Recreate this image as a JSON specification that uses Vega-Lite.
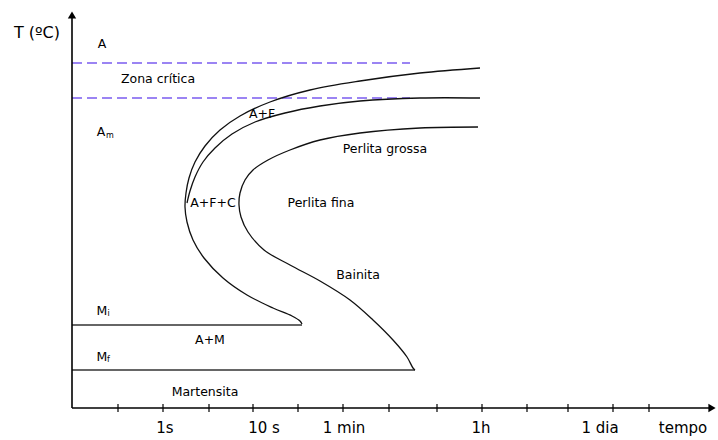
{
  "$schema": "https://vega.github.io/schema/vega-lite/v6.json",
  "width": 646,
  "height": 408,
  "autosize": {"type": "none"},
  "padding": {"left": 72, "top": 0, "right": 0, "bottom": 32},
  "background": "white",
  "view": {"stroke": null},
  "datasets": {
    "curves": [
      {"series": "c1", "ord": 1, "x": 408, "y": 340},
      {"series": "c1", "ord": 2, "x": 348, "y": 335},
      {"series": "c1", "ord": 3, "x": 288, "y": 327},
      {"series": "c1", "ord": 4, "x": 238, "y": 318},
      {"series": "c1", "ord": 5, "x": 198, "y": 306},
      {"series": "c1", "ord": 6, "x": 168, "y": 292},
      {"series": "c1", "ord": 7, "x": 148, "y": 278},
      {"series": "c1", "ord": 8, "x": 133, "y": 262},
      {"series": "c1", "ord": 9, "x": 123, "y": 246},
      {"series": "c1", "ord": 10, "x": 117, "y": 230},
      {"series": "c1", "ord": 11, "x": 114, "y": 215},
      {"series": "c1", "ord": 12, "x": 113, "y": 201},
      {"series": "c1", "ord": 13, "x": 115, "y": 186},
      {"series": "c1", "ord": 14, "x": 121, "y": 168},
      {"series": "c1", "ord": 15, "x": 132, "y": 150},
      {"series": "c1", "ord": 16, "x": 151, "y": 130},
      {"series": "c1", "ord": 17, "x": 175, "y": 113},
      {"series": "c1", "ord": 18, "x": 201, "y": 100},
      {"series": "c1", "ord": 19, "x": 220, "y": 92},
      {"series": "c1", "ord": 20, "x": 228, "y": 87},
      {"series": "c1", "ord": 21, "x": 230, "y": 84},
      {"series": "c2", "ord": 1, "x": 408, "y": 310},
      {"series": "c2", "ord": 2, "x": 348, "y": 310},
      {"series": "c2", "ord": 3, "x": 288, "y": 307},
      {"series": "c2", "ord": 4, "x": 248, "y": 302},
      {"series": "c2", "ord": 5, "x": 213, "y": 295},
      {"series": "c2", "ord": 6, "x": 183, "y": 286},
      {"series": "c2", "ord": 7, "x": 160, "y": 274},
      {"series": "c2", "ord": 8, "x": 143, "y": 260},
      {"series": "c2", "ord": 9, "x": 131, "y": 246},
      {"series": "c2", "ord": 10, "x": 123, "y": 231},
      {"series": "c2", "ord": 11, "x": 118, "y": 217},
      {"series": "c2", "ord": 12, "x": 115, "y": 205},
      {"series": "c3", "ord": 1, "x": 406, "y": 281},
      {"series": "c3", "ord": 2, "x": 348, "y": 280},
      {"series": "c3", "ord": 3, "x": 288, "y": 275},
      {"series": "c3", "ord": 4, "x": 248, "y": 268},
      {"series": "c3", "ord": 5, "x": 218, "y": 258},
      {"series": "c3", "ord": 6, "x": 196, "y": 248},
      {"series": "c3", "ord": 7, "x": 181, "y": 238},
      {"series": "c3", "ord": 8, "x": 173, "y": 228},
      {"series": "c3", "ord": 9, "x": 168, "y": 215},
      {"series": "c3", "ord": 10, "x": 167, "y": 203},
      {"series": "c3", "ord": 11, "x": 169, "y": 191},
      {"series": "c3", "ord": 12, "x": 176, "y": 176},
      {"series": "c3", "ord": 13, "x": 192, "y": 158},
      {"series": "c3", "ord": 14, "x": 218, "y": 143},
      {"series": "c3", "ord": 15, "x": 248, "y": 127},
      {"series": "c3", "ord": 16, "x": 278, "y": 108},
      {"series": "c3", "ord": 17, "x": 301, "y": 88},
      {"series": "c3", "ord": 18, "x": 321, "y": 68},
      {"series": "c3", "ord": 19, "x": 335, "y": 51},
      {"series": "c3", "ord": 20, "x": 341, "y": 40},
      {"series": "c3", "ord": 21, "x": 343, "y": 38}
    ],
    "hlines": [
      {"kind": "solid", "x": 0, "x2": 230, "y": 83},
      {"kind": "solid", "x": 0, "x2": 343, "y": 38},
      {"kind": "dash", "x": 0, "x2": 338, "y": 345},
      {"kind": "dash", "x": 0, "x2": 338, "y": 310}
    ],
    "ticks": [
      {"x": 46}, {"x": 91}, {"x": 137}, {"x": 181}, {"x": 226}, {"x": 271},
      {"x": 317}, {"x": 365}, {"x": 410}, {"x": 455}, {"x": 496}, {"x": 541}, {"x": 577}
    ],
    "arrows": [
      {"shape": "triangle-up", "x": 0, "y": 393},
      {"shape": "triangle-right", "x": 640, "y": 0}
    ],
    "labels": [
      {"kind": "title", "text": "T (ºC)", "x": -35, "y": 375},
      {"kind": "region", "text": "A", "x": 30, "y": 364},
      {"kind": "region", "text": "Zona crítica", "x": 86, "y": 329},
      {"kind": "region", "text": "A", "x": 29, "y": 276},
      {"kind": "sub", "text": "m", "x": 38, "y": 272},
      {"kind": "region", "text": "A+F", "x": 190, "y": 294},
      {"kind": "region", "text": "Perlita grossa", "x": 313, "y": 259},
      {"kind": "region", "text": "A+F+C", "x": 141, "y": 205},
      {"kind": "region", "text": "Perlita fina", "x": 249, "y": 205},
      {"kind": "region", "text": "Bainita", "x": 286, "y": 133},
      {"kind": "region", "text": "M", "x": 30, "y": 97},
      {"kind": "sub", "text": "i", "x": 36.5, "y": 94},
      {"kind": "region", "text": "A+M", "x": 138, "y": 68},
      {"kind": "region", "text": "M", "x": 30, "y": 51},
      {"kind": "sub", "text": "f", "x": 36.5, "y": 48},
      {"kind": "region", "text": "Martensita", "x": 133, "y": 16},
      {"kind": "tick", "text": "1s", "x": 93, "y": -20},
      {"kind": "tick", "text": "10 s", "x": 192, "y": -20},
      {"kind": "tick", "text": "1 min", "x": 272, "y": -20},
      {"kind": "tick", "text": "1h", "x": 409, "y": -20},
      {"kind": "tick", "text": "1 dia", "x": 528, "y": -20},
      {"kind": "tick", "text": "tempo", "x": 611, "y": -20}
    ]
  },
  "encoding": {
    "x": {"type": "quantitative", "scale": {"domain": [0, 646], "nice": false, "zero": false}, "axis": null},
    "y": {"type": "quantitative", "scale": {"domain": [0, 408], "nice": false, "zero": false}, "axis": null}
  },
  "layer": [
    {
      "data": {"name": "hlines"},
      "transform": [{"filter": "datum.kind === 'dash'"}],
      "mark": {"type": "rule", "color": "#7b5cf0", "strokeWidth": 1.5, "strokeDash": [10, 5]},
      "encoding": {"x": {"field": "x"}, "x2": {"field": "x2"}, "y": {"field": "y"}}
    },
    {
      "data": {"name": "hlines"},
      "transform": [{"filter": "datum.kind === 'solid'"}],
      "mark": {"type": "rule", "color": "#333333", "strokeWidth": 1.5},
      "encoding": {"x": {"field": "x"}, "x2": {"field": "x2"}, "y": {"field": "y"}}
    },
    {
      "data": {"name": "curves"},
      "mark": {"type": "line", "color": "#111111", "strokeWidth": 1.3, "interpolate": "catmull-rom"},
      "encoding": {
        "x": {"field": "x"},
        "y": {"field": "y"},
        "detail": {"field": "series"},
        "order": {"field": "ord", "type": "quantitative"}
      }
    },
    {
      "data": {"values": [{"x": 0, "x2": 640, "y": 0}]},
      "mark": {"type": "rule", "color": "#000000", "strokeWidth": 1.6},
      "encoding": {"x": {"field": "x"}, "x2": {"field": "x2"}, "y": {"field": "y"}}
    },
    {
      "data": {"values": [{"x": 0, "y": 0, "y2": 394}]},
      "mark": {"type": "rule", "color": "#000000", "strokeWidth": 1.6},
      "encoding": {"x": {"field": "x"}, "y": {"field": "y"}, "y2": {"field": "y2"}}
    },
    {
      "data": {"name": "ticks"},
      "mark": {"type": "rule", "color": "#000000", "strokeWidth": 1.2},
      "encoding": {"x": {"field": "x"}, "y": {"datum": -4}, "y2": {"datum": 4}}
    },
    {
      "data": {"name": "arrows"},
      "mark": {"type": "point", "filled": true, "color": "#000000", "size": 70, "opacity": 1},
      "encoding": {
        "x": {"field": "x"},
        "y": {"field": "y"},
        "shape": {"field": "shape", "type": "nominal", "scale": null}
      }
    },
    {
      "data": {"name": "labels"},
      "transform": [{"filter": "datum.kind === 'region'"}],
      "mark": {"type": "text", "font": "DejaVu Sans", "fontSize": 12.5, "color": "#000000", "align": "center", "baseline": "middle"},
      "encoding": {"x": {"field": "x"}, "y": {"field": "y"}, "text": {"field": "text"}}
    },
    {
      "data": {"name": "labels"},
      "transform": [{"filter": "datum.kind === 'sub'"}],
      "mark": {"type": "text", "font": "DejaVu Sans", "fontSize": 8, "color": "#000000", "align": "center", "baseline": "middle"},
      "encoding": {"x": {"field": "x"}, "y": {"field": "y"}, "text": {"field": "text"}}
    },
    {
      "data": {"name": "labels"},
      "transform": [{"filter": "datum.kind === 'tick'"}],
      "mark": {"type": "text", "font": "DejaVu Sans", "fontSize": 15, "color": "#000000", "align": "center", "baseline": "middle"},
      "encoding": {"x": {"field": "x"}, "y": {"field": "y"}, "text": {"field": "text"}}
    },
    {
      "data": {"name": "labels"},
      "transform": [{"filter": "datum.kind === 'title'"}],
      "mark": {"type": "text", "font": "DejaVu Sans", "fontSize": 16, "color": "#000000", "align": "center", "baseline": "middle"},
      "encoding": {"x": {"field": "x"}, "y": {"field": "y"}, "text": {"field": "text"}}
    }
  ]
}
